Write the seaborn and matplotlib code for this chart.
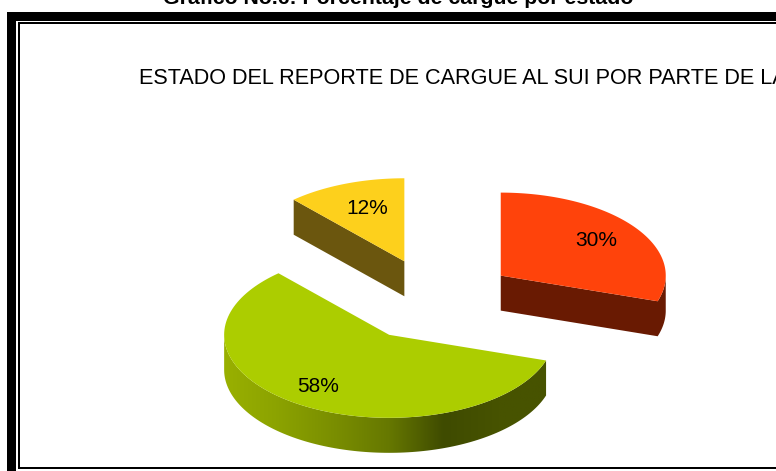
import numpy as np
import matplotlib
matplotlib.use('Agg')
import matplotlib.pyplot as plt
from matplotlib.patches import Polygon, Rectangle
import seaborn as sns

# values
estados = ['Reportado', 'Parcial', 'Pendiente']
porcentajes = [30, 58, 12]
angulo_exacto = [30.0, 58.3, 11.7]
colores_tapa = ['#ff430b', '#accd00', '#fdd01c']
colores_lado = ['#691a02', '#465200', '#6b560e']
titulo = 'ESTADO DEL REPORTE DE CARGUE AL SUI POR PARTE DE LA'
encabezado = 'Gráfico No.6: Porcentaje de cargue por estado'

sns.set_theme(style='white')
plt.rcParams['font.family'] = ['Liberation Sans', 'DejaVu Sans']

# pie geometry in pixels
CX, CY = 434, 300
RX, RY = 165, 83
DEPTH = 35
EXPLODE = 0.5

fig = plt.figure(figsize=(7.76, 4.71), dpi=100)
ax = fig.add_axes([0, 0, 1, 1])
ax.set_xlim(0, 776)
ax.set_ylim(471, 0)
ax.axis('off')

# frame
ax.add_patch(Rectangle((7, 12), 769, 8.5, color='black', lw=0))
ax.add_patch(Rectangle((7, 12), 8.5, 459, color='black', lw=0))
ax.add_patch(Rectangle((17.5, 22), 759, 2, color='black', lw=0))
ax.add_patch(Rectangle((17.5, 22), 2, 447, color='black', lw=0))
ax.add_patch(Rectangle((17.5, 467), 759, 2, color='black', lw=0))

ax.text(398, 3.5, encabezado, fontsize=15.3, fontweight='bold', ha='center', va='baseline', color='black')
ax.text(139, 78, titulo, fontsize=15.6, ha='left', va='center', color='black')


def punto(cx, cy, ang, dy=0):
    r = np.radians(ang)
    return np.column_stack([cx + RX * np.cos(r), cy - RY * np.sin(r) + dy])


# wedges go clockwise from 12 o'clock
fin = 90 - np.cumsum(angulo_exacto) * 3.6
inicio = np.r_[90, fin[:-1]]
centros = {}
for i in range(3):
    medio = np.radians((inicio[i] + fin[i]) / 2)
    centros[i] = (CX + EXPLODE * RX * np.cos(medio), CY - EXPLODE * RY * np.sin(medio))

# yellow wedge: only its cut wall shows
cx, cy = centros[2]
borde = punto(cx, cy, np.array([inicio[2]]))[0]
ax.add_patch(Polygon([(cx, cy), borde, borde + [0, DEPTH], (cx, cy + DEPTH)], color=colores_lado[2], lw=0))

# orange wedge: cut wall and the small piece of rim
cx, cy = centros[0]
ang = np.linspace(fin[0], 0, 30)
rim = punto(cx, cy, ang)
pared = np.vstack([[(cx, cy)], rim, rim[::-1] + [0, DEPTH], [(cx, cy + DEPTH)]])
ax.add_patch(Polygon(pared, color=colores_lado[0], lw=0))

# green wedge: rim with a horizontal gradient
cx, cy = centros[1]
ang = np.linspace(180, 360 + inicio[1], 120)
rim = punto(cx, cy, ang)
pared = Polygon(np.vstack([rim, rim[::-1] + [0, DEPTH]]), facecolor='none', lw=0)
ax.add_patch(pared)
rampa = sns.blend_palette(['#99b000', '#8ba200', '#7a8e00', '#667800', '#3f4b00', '#475300', '#475300'], 256)
img = ax.imshow(np.array(rampa)[None, :, :], extent=(cx - RX, cx + RX, cy + RY + DEPTH, cy - RY),
                aspect='auto', zorder=1.5)
img.set_clip_path(pared)
ax.set_xlim(0, 776)
ax.set_ylim(471, 0)

# top faces
for i in [2, 0, 1]:
    cx, cy = centros[i]
    tapa = np.vstack([[(cx, cy)], punto(cx, cy, np.linspace(inicio[i], fin[i], 120))])
    ax.add_patch(Polygon(tapa, color=colores_tapa[i], lw=0, zorder=2))

# labels
pos_etiquetas = [(596, 240), (318, 386), (367, 208)]
for v, (x, y) in zip(porcentajes, pos_etiquetas):
    ax.text(x, y, f'{v}%', fontsize=15, ha='center', va='center', color='black', zorder=3)

fig.savefig('out.png', dpi=100)
